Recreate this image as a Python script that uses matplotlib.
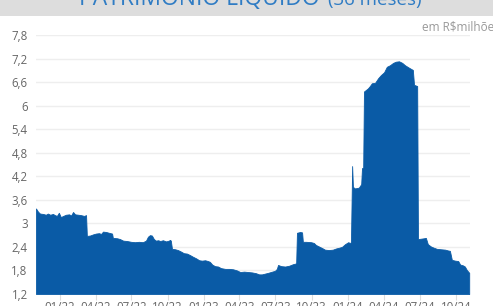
import matplotlib
matplotlib.use('Agg')
import matplotlib.pyplot as plt
import matplotlib.dates as mdates
import pandas as pd

plt.rcParams['font.family'] = ['Open Sans', 'DejaVu Sans']

# Patrimônio líquido (R$ milhões)
datas = [
    '2021-11-01', '2021-11-06', '2021-11-11', '2021-11-19', '2021-11-26', '2021-12-01',
    '2021-12-07', '2021-12-14', '2021-12-19', '2021-12-24', '2021-12-29', '2022-01-03',
    '2022-01-09', '2022-01-16', '2022-01-24', '2022-01-29', '2022-02-03', '2022-02-08',
    '2022-02-16', '2022-02-23', '2022-03-03', '2022-03-08', '2022-03-10', '2022-03-18',
    '2022-03-26', '2022-04-02', '2022-04-10', '2022-04-15', '2022-04-20', '2022-04-28',
    '2022-05-05', '2022-05-13', '2022-05-15', '2022-05-26', '2022-06-02', '2022-06-10',
    '2022-06-20', '2022-06-30', '2022-07-10', '2022-07-20', '2022-07-30', '2022-08-07',
    '2022-08-12', '2022-08-17', '2022-08-22', '2022-08-27', '2022-09-01', '2022-09-07',
    '2022-09-12', '2022-09-19', '2022-09-27', '2022-10-04', '2022-10-07', '2022-10-09',
    '2022-10-12', '2022-10-20', '2022-10-27', '2022-11-04', '2022-11-11', '2022-11-19',
    '2022-11-27', '2022-12-04', '2022-12-12', '2022-12-20', '2022-12-27', '2023-01-04',
    '2023-01-11', '2023-01-16', '2023-01-22', '2023-01-29', '2023-02-06', '2023-02-13',
    '2023-02-24', '2023-03-06', '2023-03-16', '2023-03-26', '2023-04-03', '2023-04-13',
    '2023-04-23', '2023-05-03', '2023-05-13', '2023-05-21', '2023-05-28', '2023-06-05',
    '2023-06-13', '2023-06-23', '2023-06-30', '2023-07-05', '2023-07-08', '2023-07-16',
    '2023-07-26', '2023-08-05', '2023-08-15', '2023-08-23', '2023-08-25', '2023-09-02',
    '2023-09-07', '2023-09-09', '2023-09-17', '2023-09-30', '2023-10-07', '2023-10-12',
    '2023-10-20', '2023-10-28', '2023-11-04', '2023-11-14', '2023-11-24', '2023-12-02',
    '2023-12-10', '2023-12-17', '2023-12-25', '2024-01-02', '2024-01-07', '2024-01-09',
    '2024-01-12', '2024-01-14', '2024-01-19', '2024-01-24', '2024-01-29', '2024-02-04',
    '2024-02-06', '2024-02-09', '2024-02-11', '2024-02-16', '2024-02-21', '2024-02-26',
    '2024-03-02', '2024-03-10', '2024-03-18', '2024-03-25', '2024-04-02', '2024-04-09',
    '2024-04-17', '2024-04-25', '2024-05-02', '2024-05-10', '2024-05-18', '2024-05-25',
    '2024-06-02', '2024-06-07', '2024-06-14', '2024-06-17', '2024-06-25', '2024-06-27',
    '2024-07-05', '2024-07-12', '2024-07-17', '2024-07-22', '2024-07-30', '2024-08-06',
    '2024-08-14', '2024-08-24', '2024-09-04', '2024-09-11', '2024-09-16', '2024-09-21',
    '2024-09-29', '2024-10-07', '2024-10-12', '2024-10-19', '2024-10-24', '2024-10-29',
    '2024-11-04',
]
valores = [
    3.38, 3.30, 3.25, 3.24, 3.22, 3.25,
    3.22, 3.24, 3.21, 3.19, 3.27, 3.16,
    3.19, 3.22, 3.23, 3.20, 3.29, 3.23,
    3.22, 3.21, 3.19, 3.21, 2.68, 2.69,
    2.72, 2.74, 2.75, 2.73, 2.79, 2.78,
    2.76, 2.74, 2.63, 2.62, 2.60, 2.56,
    2.55, 2.53, 2.52, 2.53, 2.52, 2.56,
    2.66, 2.70, 2.69, 2.60, 2.56, 2.57,
    2.55, 2.57, 2.54, 2.56, 2.58, 2.56,
    2.35, 2.34, 2.32, 2.28, 2.24, 2.23,
    2.19, 2.15, 2.11, 2.06, 2.05, 2.06,
    2.04, 2.02, 1.95, 1.91, 1.90, 1.86,
    1.84, 1.84, 1.83, 1.80, 1.76, 1.77,
    1.76, 1.75, 1.73, 1.70, 1.70, 1.72,
    1.74, 1.77, 1.79, 1.84, 1.94, 1.91,
    1.90, 1.92, 1.96, 1.98, 2.76, 2.78,
    2.77, 2.53, 2.53, 2.52, 2.50, 2.45,
    2.41, 2.37, 2.33, 2.32, 2.33, 2.36,
    2.38, 2.40, 2.47, 2.52, 2.50, 2.52,
    4.46, 3.93, 3.89, 3.90, 3.91, 4.00,
    4.41, 4.40, 6.36, 6.40, 6.44, 6.50,
    6.57, 6.58, 6.70, 6.78, 6.85, 6.99,
    7.03, 7.09, 7.12, 7.13, 7.09, 7.03,
    6.98, 6.95, 6.91, 6.53, 6.50, 2.60,
    2.61, 2.62, 2.63, 2.47, 2.41, 2.38,
    2.35, 2.34, 2.33, 2.31, 2.30, 2.07,
    2.05, 2.04, 1.95, 1.93, 1.90, 1.81,
    1.74,
]
y_ticks = [1.2, 1.8, 2.4, 3.0, 3.6, 4.2, 4.8, 5.4, 6.0, 6.6, 7.2, 7.8]
y_labels = ['1,2', '1,8', '2,4', '3', '3,6', '4,2', '4,8', '5,4', '6', '6,6', '7,2', '7,8']
x_ticks = ['2022-01-01', '2022-04-01', '2022-07-01', '2022-10-01', '2023-01-01', '2023-04-01',
           '2023-07-01', '2023-10-01', '2024-01-01', '2024-04-01', '2024-07-01', '2024-10-01']

datas = pd.to_datetime(datas)
x_ticks = pd.to_datetime(x_ticks)

fig = plt.figure(figsize=(4.93, 3.06), dpi=100)
fig.patch.set_facecolor('white')

# faixa cinza do cabeçalho (título cortado no topo)
fig.patches.append(plt.Rectangle((0, 1 - 16 / 306), 1, 16 / 306, transform=fig.transFigure,
                                 facecolor='#dddddd', edgecolor='none', zorder=0))
fig.text(320 / 493, 1 - 5 / 306, 'PATRIMÔNIO LÍQUIDO', ha='right', va='baseline',
         fontsize=16.5, color='#2f7cc4')
fig.text(328 / 493, 1 - 5 / 306, '(36 meses)', ha='left', va='baseline',
         fontsize=13.5, color='#2f7cc4')
fig.text(422 / 493, 1 - 27 / 306, 'em R$milhões', ha='left', va='center',
         fontsize=8.5, color='#999999')

ax = fig.add_axes([36 / 493, 1 - 294 / 306, 434 / 493, 259 / 306])
ax.fill_between(datas, valores, 1.2, color='#0a5ba6', linewidth=0.6, edgecolor='#0a5ba6', zorder=2)

ax.set_ylim(1.2, 7.8)
ax.set_xlim(pd.Timestamp('2021-11-01'), pd.Timestamp('2024-11-06'))
ax.set_yticks(y_ticks)
ax.set_yticklabels(y_labels)
ax.set_xticks(x_ticks)
ax.xaxis.set_major_formatter(mdates.DateFormatter('%m/%y'))

ax.grid(axis='y', color='#eeeeee', linewidth=1, zorder=0)
ax.set_axisbelow(True)
for s in ax.spines.values():
    s.set_visible(False)
ax.tick_params(axis='y', length=0, pad=6, labelsize=8.3, labelcolor='#666666')
ax.tick_params(axis='x', length=4, width=0.8, color='#dddddd', pad=1, labelsize=8.3,
               labelcolor='#666666')

plt.savefig('out.png', dpi=100, facecolor='white')
plt.close()
